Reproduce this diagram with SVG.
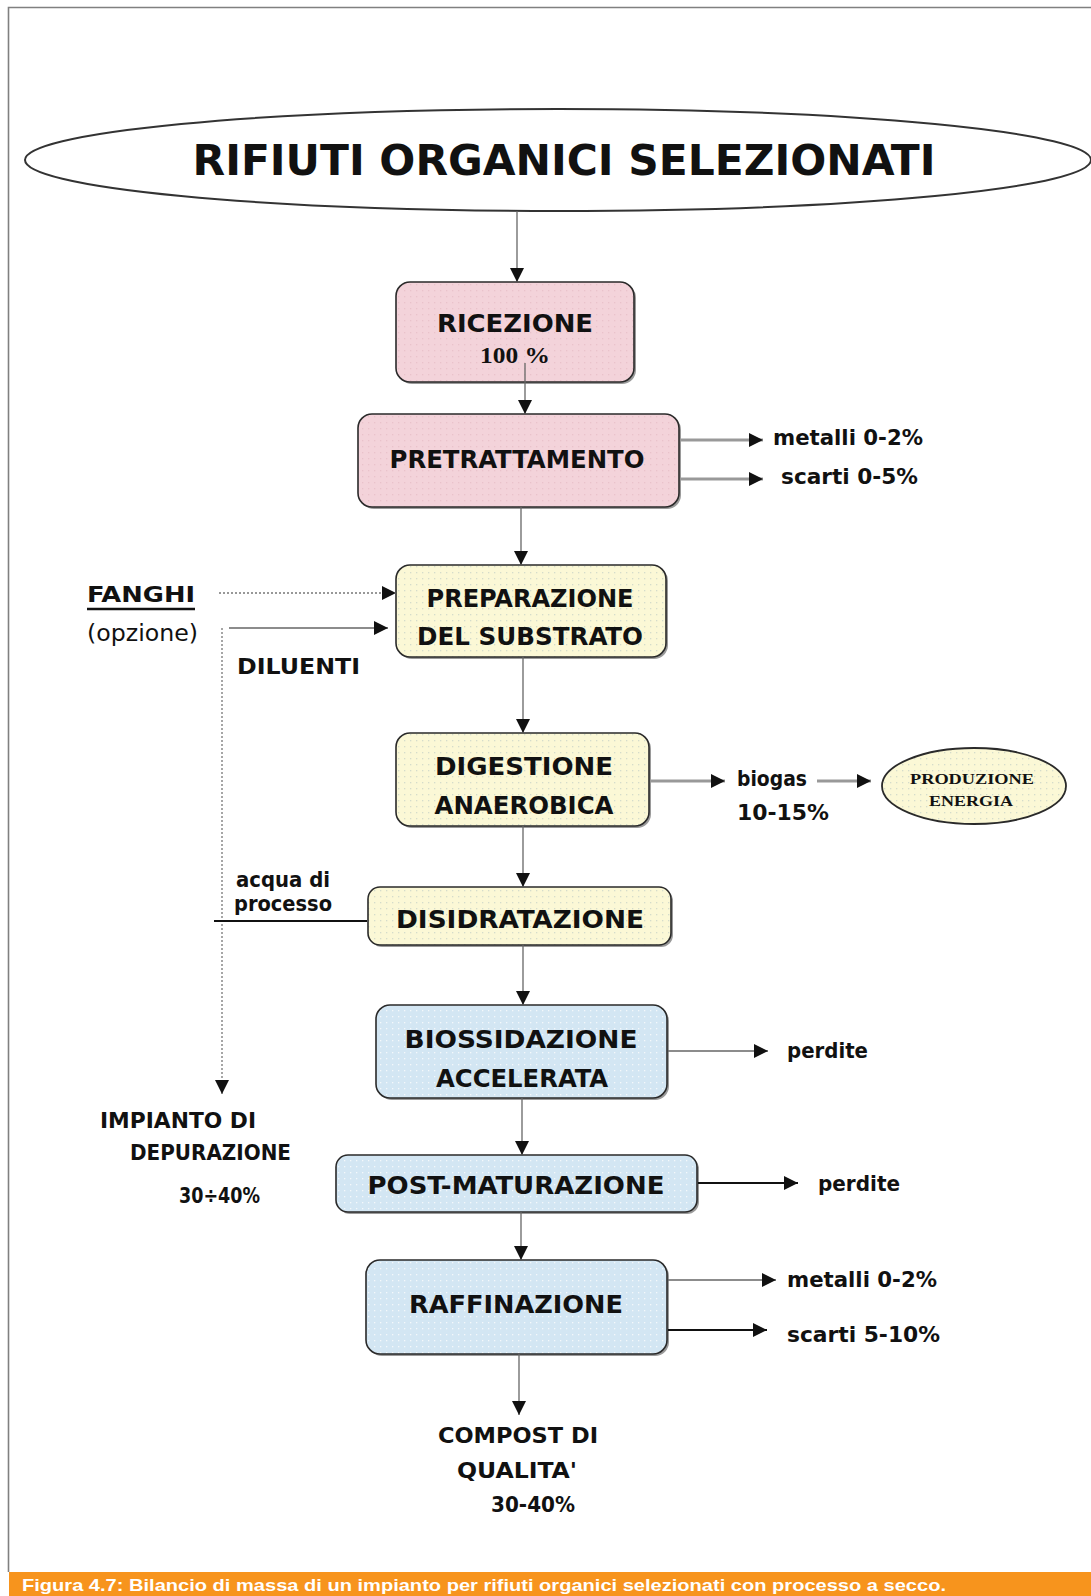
<svg xmlns="http://www.w3.org/2000/svg" width="1091" height="1596" viewBox="0 0 1091 1596">
<style>
.t{font-family:"DejaVu Sans Condensed","DejaVu Sans",sans-serif;font-weight:bold;fill:#111}
.r{font-family:"DejaVu Sans Condensed","DejaVu Sans",sans-serif;fill:#111}
.s{font-family:"Liberation Serif","DejaVu Serif",serif;font-weight:bold;fill:#111}
.box{stroke:#2a2a2a;stroke-width:1.6}
.sh{fill:#9a9a9a}
.c{fill:none;stroke:#666;stroke-width:1.3}
.g{fill:none;stroke:#999;stroke-width:3}
.k{fill:none;stroke:#111;stroke-width:2}
.d{fill:none;stroke:#777;stroke-width:1.3;stroke-dasharray:2 2}
</style>
<defs>
<marker id="ah" markerUnits="userSpaceOnUse" markerWidth="14" markerHeight="14" refX="14" refY="7" orient="auto">
<path d="M0,0 L14,7 L0,14 z" fill="#111"/>
</marker>
<pattern id="py" width="6" height="6" patternUnits="userSpaceOnUse">
<rect width="6" height="6" fill="#fbf8d6"/><rect x="2" y="2" width="1.3" height="1.3" fill="#d4dccb"/>
</pattern>
<pattern id="pb" width="6" height="6" patternUnits="userSpaceOnUse">
<rect width="6" height="6" fill="#d3e6f3"/><rect x="2" y="2" width="1.3" height="1.3" fill="#f4f8fb"/>
</pattern>
<pattern id="pp" width="6" height="6" patternUnits="userSpaceOnUse">
<rect width="6" height="6" fill="#f3d3da"/><rect x="2" y="2" width="1.3" height="1.3" fill="#e9c2cb"/>
</pattern>
</defs>
<rect width="1091" height="1596" fill="#fff"/>
<path d="M8.5,1572 V7.5 H1091" fill="none" stroke="#808080" stroke-width="1.6"/>

<g id="rifiuti">
<ellipse cx="558" cy="160" rx="533" ry="51" fill="#fff" stroke="#333" stroke-width="2"/>
<text class="t" x="564" y="175" font-size="42" text-anchor="middle" textLength="743" lengthAdjust="spacingAndGlyphs">RIFIUTI ORGANICI SELEZIONATI</text>
</g>

<g id="ricezione">
<rect class="sh" x="398" y="284" width="238" height="100" rx="14"/>
<rect class="box" x="396" y="282" width="238" height="100" rx="14" fill="url(#pp)"/>
<text class="t" x="515" y="332" font-size="25" text-anchor="middle" textLength="156" lengthAdjust="spacingAndGlyphs">RICEZIONE</text>
<text class="s" x="515" y="363" font-size="23" text-anchor="middle" textLength="70" lengthAdjust="spacingAndGlyphs">100 %</text>
</g>

<g id="pretrattamento">
<rect class="sh" x="360" y="416" width="321" height="93" rx="14"/>
<rect class="box" x="358" y="414" width="321" height="93" rx="14" fill="url(#pp)"/>
<text class="t" x="517" y="468" font-size="25" text-anchor="middle" textLength="255" lengthAdjust="spacingAndGlyphs">PRETRATTAMENTO</text>
</g>
<g id="out-pretratt">
<text class="t" x="773" y="445" font-size="22" textLength="150" lengthAdjust="spacingAndGlyphs">metalli 0-2%</text>
<text class="t" x="781" y="484" font-size="22" textLength="137" lengthAdjust="spacingAndGlyphs">scarti 0-5%</text>
</g>

<g id="fanghi">
<text class="t" x="87" y="602" font-size="22" textLength="108" lengthAdjust="spacingAndGlyphs">FANGHI</text>
<path d="M87,609 H195" stroke="#111" stroke-width="2.5"/>
<text class="r" x="87" y="641" font-size="23" textLength="111" lengthAdjust="spacingAndGlyphs">(opzione)</text>
</g>
<g id="diluenti">
<text class="t" x="237" y="674" font-size="22" textLength="123" lengthAdjust="spacingAndGlyphs">DILUENTI</text>
</g>

<g id="preparazione">
<rect class="sh" x="398" y="567" width="270" height="92" rx="14"/>
<rect class="box" x="396" y="565" width="270" height="92" rx="14" fill="url(#py)"/>
<text class="t" x="530" y="607" font-size="25" text-anchor="middle" textLength="207" lengthAdjust="spacingAndGlyphs">PREPARAZIONE</text>
<text class="t" x="530" y="645" font-size="25" text-anchor="middle" textLength="226" lengthAdjust="spacingAndGlyphs">DEL SUBSTRATO</text>
</g>

<g id="digestione">
<rect class="sh" x="398" y="735" width="253" height="93" rx="14"/>
<rect class="box" x="396" y="733" width="253" height="93" rx="14" fill="url(#py)"/>
<text class="t" x="524" y="775" font-size="25" text-anchor="middle" textLength="178" lengthAdjust="spacingAndGlyphs">DIGESTIONE</text>
<text class="t" x="524" y="814" font-size="25" text-anchor="middle" textLength="179" lengthAdjust="spacingAndGlyphs">ANAEROBICA</text>
</g>
<g id="biogas">
<text class="t" x="737" y="786" font-size="22" textLength="70" lengthAdjust="spacingAndGlyphs">biogas</text>
<text class="t" x="737" y="820" font-size="22" textLength="92" lengthAdjust="spacingAndGlyphs">10-15%</text>
</g>
<g id="produzione-energia">
<ellipse cx="974" cy="786" rx="92" ry="38" fill="url(#py)" stroke="#2a2a2a" stroke-width="1.8"/>
<text class="s" x="972" y="784" font-size="15" text-anchor="middle" textLength="124" lengthAdjust="spacingAndGlyphs">PRODUZIONE</text>
<text class="s" x="971" y="806" font-size="15" text-anchor="middle" textLength="84" lengthAdjust="spacingAndGlyphs">ENERGIA</text>
</g>

<g id="acqua">
<text class="t" x="236" y="887" font-size="22" textLength="94" lengthAdjust="spacingAndGlyphs">acqua di</text>
<text class="t" x="234" y="911" font-size="22" textLength="98" lengthAdjust="spacingAndGlyphs">processo</text>
</g>

<g id="disidratazione">
<rect class="sh" x="370" y="889" width="303" height="58" rx="12"/>
<rect class="box" x="368" y="887" width="303" height="58" rx="12" fill="url(#py)"/>
<text class="t" x="520" y="928" font-size="25" text-anchor="middle" textLength="248" lengthAdjust="spacingAndGlyphs">DISIDRATAZIONE</text>
</g>

<g id="biossidazione">
<rect class="sh" x="378" y="1007" width="291" height="93" rx="14"/>
<rect class="box" x="376" y="1005" width="291" height="93" rx="14" fill="url(#pb)"/>
<text class="t" x="521" y="1048" font-size="25" text-anchor="middle" textLength="233" lengthAdjust="spacingAndGlyphs">BIOSSIDAZIONE</text>
<text class="t" x="522" y="1087" font-size="25" text-anchor="middle" textLength="172" lengthAdjust="spacingAndGlyphs">ACCELERATA</text>
</g>
<g id="perdite1">
<text class="t" x="787" y="1058" font-size="22" textLength="81" lengthAdjust="spacingAndGlyphs">perdite</text>
</g>

<g id="impianto-depurazione">
<text class="t" x="100" y="1128" font-size="21" textLength="156" lengthAdjust="spacingAndGlyphs">IMPIANTO DI</text>
<text class="t" x="130" y="1160" font-size="21" textLength="161" lengthAdjust="spacingAndGlyphs">DEPURAZIONE</text>
<text class="t" x="179" y="1203" font-size="21" textLength="81" lengthAdjust="spacingAndGlyphs">30÷40%</text>
</g>

<g id="post-maturazione">
<rect class="sh" x="338" y="1157" width="361" height="57" rx="12"/>
<rect class="box" x="336" y="1155" width="361" height="57" rx="12" fill="url(#pb)"/>
<text class="t" x="516" y="1194" font-size="25" text-anchor="middle" textLength="297" lengthAdjust="spacingAndGlyphs">POST-MATURAZIONE</text>
</g>
<g id="perdite2">
<text class="t" x="818" y="1191" font-size="22" textLength="82" lengthAdjust="spacingAndGlyphs">perdite</text>
</g>

<g id="raffinazione">
<rect class="sh" x="368" y="1262" width="301" height="94" rx="14"/>
<rect class="box" x="366" y="1260" width="301" height="94" rx="14" fill="url(#pb)"/>
<text class="t" x="516" y="1313" font-size="25" text-anchor="middle" textLength="214" lengthAdjust="spacingAndGlyphs">RAFFINAZIONE</text>
</g>
<g id="out-raffinazione">
<text class="t" x="787" y="1287" font-size="22" textLength="150" lengthAdjust="spacingAndGlyphs">metalli 0-2%</text>
<text class="t" x="787" y="1342" font-size="22" textLength="153" lengthAdjust="spacingAndGlyphs">scarti 5-10%</text>
</g>

<g id="compost">
<text class="t" x="438" y="1443" font-size="22" textLength="160" lengthAdjust="spacingAndGlyphs">COMPOST DI</text>
<text class="t" x="457" y="1478" font-size="22" textLength="120" lengthAdjust="spacingAndGlyphs">QUALITA'</text>
<text class="t" x="491" y="1512" font-size="21" textLength="84" lengthAdjust="spacingAndGlyphs">30-40%</text>
</g>

<g id="connectors">
<path class="c" d="M517,211 V282" marker-end="url(#ah)"/>
<path class="c" d="M525,363 V414" marker-end="url(#ah)"/>
<path class="g" d="M680,440 H763" marker-end="url(#ah)"/>
<path class="g" d="M680,479 H763" marker-end="url(#ah)"/>
<path class="c" d="M521,507 V565" marker-end="url(#ah)"/>
<path class="d" d="M219,593 H396" marker-end="url(#ah)"/>
<path class="c" d="M229,628 H388" marker-end="url(#ah)"/>
<path class="d" d="M222,628 V1094" marker-end="url(#ah)"/>
<path class="c" d="M523,657 V733" marker-end="url(#ah)"/>
<path class="g" d="M650,781 H725" marker-end="url(#ah)"/>
<path class="g" d="M817,781 H871" marker-end="url(#ah)"/>
<path class="c" d="M523,826 V887" marker-end="url(#ah)"/>
<path class="k" d="M214,921 H367"/>
<path class="c" d="M523,945 V1005" marker-end="url(#ah)"/>
<path class="c" d="M668,1051 H768" marker-end="url(#ah)"/>
<path class="c" d="M522,1098 V1155" marker-end="url(#ah)"/>
<path class="k" d="M698,1183 H798" marker-end="url(#ah)"/>
<path class="c" d="M521,1212 V1260" marker-end="url(#ah)"/>
<path class="c" d="M668,1280 H776" marker-end="url(#ah)"/>
<path class="k" d="M668,1330 H767" marker-end="url(#ah)"/>
<path class="c" d="M519,1354 V1415" marker-end="url(#ah)"/>
</g>

<g id="caption">
<rect x="9" y="1572" width="1082" height="24" fill="#f7941d"/>
<text x="22" y="1591" font-family="Liberation Sans, Arial, sans-serif" font-weight="bold" font-size="17" fill="#fff" textLength="924" lengthAdjust="spacingAndGlyphs">Figura 4.7: Bilancio di massa di un impianto per rifiuti organici selezionati con processo a secco.</text>
</g>
</svg>
